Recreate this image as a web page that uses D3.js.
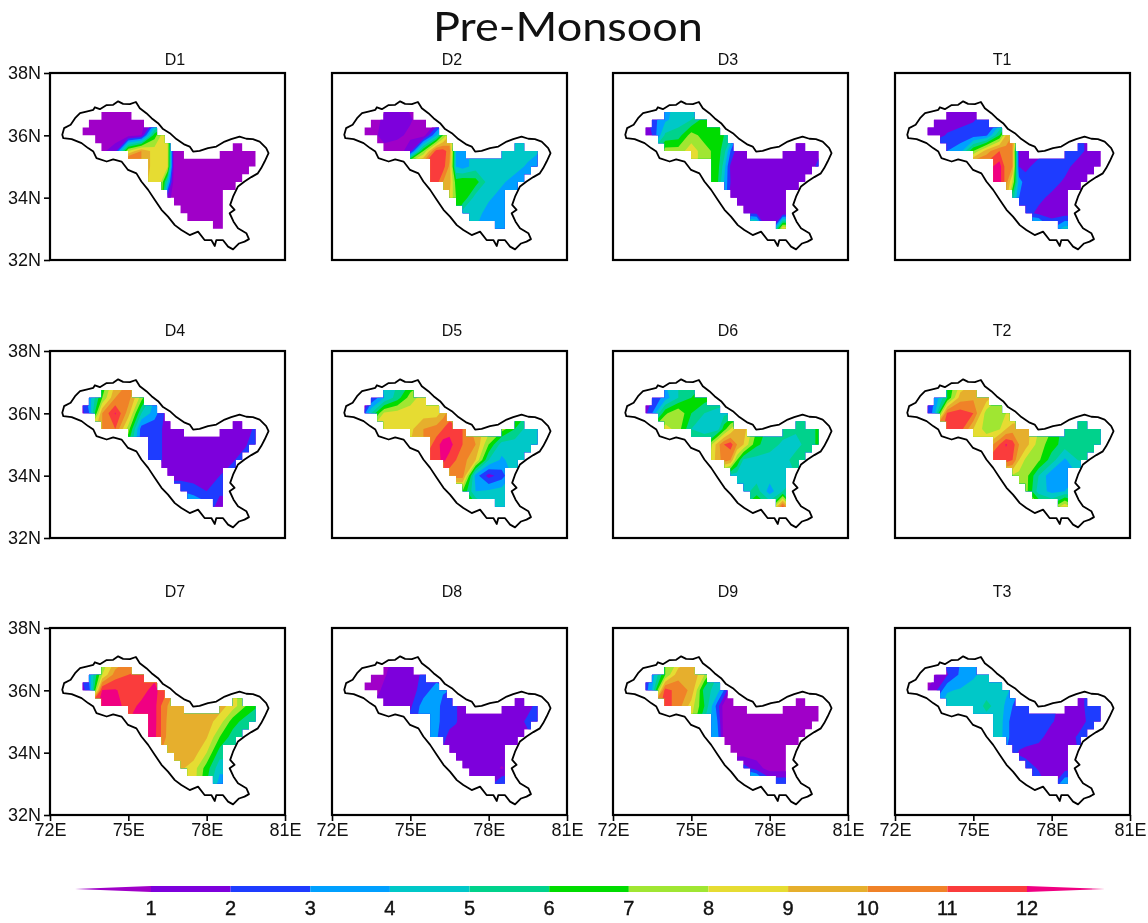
<!DOCTYPE html>
<html>
<head>
<meta charset="utf-8">
<script src="https://cdn.jsdelivr.net/npm/d3@7"></script>
<style>
  body { margin: 0; background: #fff; }
  text { font-family: "Liberation Sans", sans-serif; fill: #111; }
</style>
</head>
<body>
<svg id="chart" width="1148" height="923"></svg>
<script>
// Grid nodes of the rainfall fields, rows run north to south.
// Extra columns around 76.5E where the fields change fastest.
const lonNodes = [73, 73.5, 74, 74.5, 75, 75.5, 76, 76.25, 76.5, 76.75, 77, 77.5, 78, 78.5, 79, 79.5, 80];
const latNodes = [37, 36.5, 36, 35.5, 35, 34.5, 34, 33.5, 33];

const levels = [1, 2, 3, 4, 5, 6, 7, 8, 9, 10, 11, 12];
const bandColors = ["#a000c8", "#7d00dc", "#1e3cff", "#00a0ff", "#00c8c8", "#00d28c", "#00dc00",
  "#a0e632", "#e6dc32", "#e6af2d", "#f08228", "#fa3c3c", "#f00082"];

const panelNames = ["D1", "D2", "D3", "T1", "D4", "D5", "D6", "T2", "D7", "D8", "D9", "T3"];
const xTicks = [72, 75, 78, 81];
const yTicks = [32, 34, 36, 38];

// Values at the grid nodes.
const D1 = [
  [.5,.5,.5,.5,.5,.5,2,2,2,1,.5,.5,.5,.5,.5,.5,.5],
  [.5,.5,.5,.5,.5,.5,2,3,4,2,.5,.5,.5,.5,.5,.5,.5],
  [.5,.5,.5,.5,.5,1,6.5,8,8,3,1,.5,.5,.5,.5,.5,.5],
  [.5,.5,.8,1.5,8,10,8.5,8.5,8.3,.5,.5,.5,.5,.5,.5,.5,.5],
  [.5,.5,.5,5,14,10,8.5,8.5,8.2,.5,.5,.5,.5,.5,.5,.5,.5],
  [9,9,9,9,9,9.5,8.5,8,4.5,.5,.5,.5,.5,.5,.5,.5,.5],
  [8,8,8,8,8,8,8,8,1.5,.5,.5,.5,.5,.5,.5,.5,.5],
  [2,2,2,2,2,2,2,2,.5,.5,.5,.5,.5,.5,.5,.5,.5],
  [.5,.5,.5,.5,.5,.5,.5,.5,.5,.5,.5,.5,.5,.5,.5,.5,.5]
];
const D2 = [
  [.5,.5,.8,1.2,.8,.5,.5,.5,1,1.5,2,3,4,4,4,4,4],
  [.5,.5,1.2,1.5,1.1,.5,.5,1,3,3.5,4,4.5,4.5,4.5,4.5,4.5,4.5],
  [.5,.5,1.5,1.2,.8,.5,4,7,9,8,6,4.5,4.5,4.5,4.5,4.5,4.5],
  [.5,.5,.5,.5,1.5,7,11.5,11.5,10.5,4,3.5,4.5,4.5,4.5,4.5,4.5,4],
  [11,11,11,11,11,11.5,11.5,11.5,9.8,4,3.5,4.5,4.5,4.5,4.5,3.8,3],
  [11,11,11,11,11,11,11.5,10,9.5,6.5,6.9,6.5,4.5,4.2,3.5,3,3],
  [11,11,11,11,11,11,10,10,9,7,6.9,4.5,4.2,3.5,3,3,3],
  [7,7,7,7,7,7,7,7,7,6.5,4.5,4.5,3.5,3.5,3,3,3],
  [4.5,4.5,4.5,4.5,4.5,4.5,4.5,4.5,4.5,4.5,4.5,4,3.5,3.5,3.5,3.5,3.5]
];
const D3 = [
  [1.5,2.5,3.5,4.5,4.5,4.8,5.5,5.5,5.5,5.5,5,2,1.5,1.5,1.5,1.5,1.5],
  [.8,2.5,3.8,4.5,5,6.5,6.5,6,6,5,4,2,1.5,1.5,1.5,1.5,1.5],
  [.5,2,5.2,5.5,7.5,6.5,6.3,6,5.5,3,2,1.5,1.5,1.5,1.5,1.5,1.5],
  [3,5,7.5,7.5,8.5,7.5,6.5,5.5,3,1.5,1.2,1.5,1.5,1.5,1.5,1.5,2],
  [8,8,8,8,8.5,7.5,6.5,4.5,1.8,1.5,1.5,1.5,1.5,1.5,1.5,1.5,2.5],
  [8,8,8,8,8,7.5,6.2,4,2,1.5,1.5,1.5,1.5,1.5,1.5,2,2],
  [5,5,5,5,5,5,5,4,1.5,1.5,1.5,1.5,1.5,1.5,1.5,1.5,1.5],
  [2,2,2,2,2,2,2,2,2,2,2,1.8,1.5,1.2,1.5,1.5,1.5],
  [9,9,9,9,9,9,9,9,9,9,9,7,1,9,9,9,9]
];
const T1 = [
  [1,1,1,1,1,1.5,2,3,3,3,3,2,2,2,2,1.5,1.5],
  [1,1.5,1.5,1.5,1.9,2.5,3,4,5,4,4,2,2,2,2,1.5,1.5],
  [1,1.5,2.1,2.5,2.5,2.8,6,9,10,7,3,2,2,2,2.5,1.5,1.5],
  [2,3,3,3.5,7,9.5,11,10.5,10,1.7,1.5,1.5,2,2.5,2.5,1.5,1.5],
  [12,12,12,12,12,11.5,12.5,10.5,10,2,1.7,2.5,2.5,2.4,1.5,1.5,1.5],
  [12,12,12,12,12,12,12.5,10.5,8,3.5,2.5,2.5,2.5,1.8,1.5,1.5,1.5],
  [11,11,11,11,11,11,11,10,5.5,3,2.5,2.3,1.7,1.5,1.5,1.5,1.5],
  [4,4,4,4,4,4,4,4,4,3,2.5,1.7,1.5,1.5,1.5,1.5,1.5],
  [5,5,5,5,5,5,5,5,5,5,5,6,3,4.5,4.5,4.5,4.5]
];
const D4 = [
  [2,3,6,9,10,10,8,6,4,3,2,1.5,1.5,1.5,1.5,1.5,1.5],
  [1,3.5,7,10,10.5,7.5,4,3,2,2,1.5,1.5,1.5,1.5,1.5,1.5,1.5],
  [.5,3,10,12.1,9.5,5,3.5,2.5,1.5,1.5,1.5,1.5,1.5,1.5,1.5,1.5,1.5],
  [5,8,10,11,7.5,2.5,2.3,2.1,1.5,1.5,1.5,1.5,1.5,1.5,1.5,1.5,2.5],
  [6,6,6,6,6,2.5,2.5,2.1,1.5,1.5,1.5,1.5,1.5,1.5,1.5,1.9,3],
  [3,3,3,3,3,2.5,2.5,2.1,1.5,1.5,1.5,1.5,1.5,1.5,1.9,2.5,3],
  [2,2,2,2,2,2,2,1.5,1.5,1.5,1.5,1.5,1.5,2,2.5,2.5,2.5],
  [3,3,3,3,3,3,3,3,3,3,3,2.5,2,2.4,2.5,2.5,2.5],
  [4,4,4,4,4,4,4,4,4,4,4,4.5,3.5,1,1,1,1]
];
const D5 = [
  [1,3,4.5,5,6,7,8,8,8.5,8.7,9,9,9,9,9,9,9],
  [.5,2,4,5.5,7.5,8.5,8.5,8.5,8.5,8.7,9,9,9,9,9,9,9],
  [.5,5,8.2,8.5,8.5,8.5,8.5,9.5,10.5,10,9,9,9,8,7,6,5],
  [7,8,8.5,8.5,8.7,10,10.5,11,11.5,11.3,11,9.5,8.5,7.5,6,4.5,4.5],
  [9,9,9,9,9,10,11.5,12.5,12.5,11.5,11,10,7,4.5,4.5,4.5,4.5],
  [10,10,10,10,10,11,11.5,12.3,11.5,11,10.5,9,5,3.8,4.5,4.5,4.5],
  [10,10,10,10,10,10,10,10.5,10.5,10.5,10.5,3.5,1.6,2.5,4.5,4.5,4.5],
  [7,7,7,7,7,7,7,7,7,7,7,4,4.2,4.5,4.5,4.5,4.5],
  [7,7,7,7,7,7,7,7,7,7,7,6.5,5,4.5,4.5,4.5,4.5]
];
const D6 = [
  [1,3,4,5,5.5,6,6,6,6,6,6,6,6,6,6,6,6],
  [.5,2,3.5,5,6,6.5,6,5.5,5,5,5,5.5,5.5,5.5,5.5,5.5,5.5],
  [.5,3,6.8,7.9,6,5,4.5,4.7,5,5,5,5.5,5.5,5.5,5.5,5.5,6],
  [5,7,8.5,7.5,5,4.5,4.5,6.5,8,9.5,9.5,7,5.5,5.5,5.2,5.5,6.5],
  [5.5,5.5,5.5,5.5,5.5,6,9.5,11,11.5,10,9,6.2,5.5,4.8,4.6,5.5,6.5],
  [6,6,6,6,6,7,9.5,10.5,10,7,4.8,4.6,4.5,4.5,5.5,5.5,5.5],
  [7,7,7,7,7,7,7,5.5,4.5,4.5,4.5,4.5,4.5,4.5,5,5,5],
  [4.5,4.5,4.5,4.5,4.5,4.5,4.5,4.5,4.5,4.5,4.5,5.5,3.5,5,5,5,5],
  [6,6,6,6,6,6,6,6,6,6,6,7.5,6,11.5,6,6,6]
];
const T2 = [
  [1,4,6,8,9,9,8,7.5,7,7,7,7,6,6,5.5,5.5,5.5],
  [.5,3,6,9.5,9.8,9.5,8,7.5,7,7,7,7,6,6,5.5,5.5,5.5],
  [.5,3.5,11.2,11.5,11,7.5,7.5,8,8,8,8,7,6,5.5,5.5,5.5,5.5],
  [8,10,11.5,11.5,9,7.5,7.9,9,9.5,9.7,9.5,8,7,5.5,5.5,5.5,5.5],
  [8,8,8,8,8,9,11,12.1,11.5,10,9.5,7.5,6.5,5.5,5.5,5.5,5.5],
  [10,10,10,10,10,11,11.5,11.5,11,9,7.8,7.2,5.5,3.8,5,5.5,5.5],
  [9,9,9,9,9,9,9,8,7.8,7.6,7.5,5,3.2,3.5,4,4,4],
  [7.5,7.5,7.5,7.5,7.5,7.5,7.5,7.5,7.5,7.5,7.5,4.5,3.7,4,4.5,4.5,4.5],
  [8,8,8,8,8,8,8,8,8,8,8,7.5,6.5,9,7,7,7]
];
const D7 = [
  [3,5,7,9,10,10,10,10,10,10,10,10,9.5,9,8,7,6],
  [1,3.5,8,10.5,11,11.5,11.5,11.3,11,10.5,10,9.5,9.5,9,8,7,6],
  [1,2.5,12.1,12.1,11.5,11.5,12.5,11.5,11,10,9,9.5,9.5,9,8.5,7,6],
  [8,11,12.5,12.5,11.5,12.3,12.4,11,10,9.5,9.5,9.5,9.5,9.5,8.5,7,6],
  [12,12,12,12,12,12.3,12.4,11,9.8,9.5,9.5,9.5,9.5,8.5,6.5,5.5,5.5],
  [12,12,12,12,12,12.3,12.3,11,9.7,9.5,9.5,9.5,9.1,7,5.5,5.5,5.5],
  [11,11,11,11,11,11,11,10,9.5,9.5,9.5,9.5,8,5.5,5.5,5.5,5.5],
  [9,9,9,9,9,9,9,9,9,9,9.2,8.5,6.5,4.3,4.5,4.5,4.5],
  [9,9,9,9,9,9,9,9,9,9,9,8.5,6,3.5,3.5,3.5,3.5]
];
const D8 = [
  [.5,.5,.5,1.5,1.5,1.5,2,2,2,2,1.5,1.5,1.5,1.5,1.5,1.5,1.5],
  [.5,.5,.9,1.5,1.5,2.2,2.5,2.5,2.5,2,1.5,1.5,1.5,1.5,1.5,1.5,1.5],
  [.5,.5,1.2,1.5,1.5,2.5,3.5,3.2,3,2.5,2,1.5,1.5,1.5,1.5,1.5,1.5],
  [.5,1,1.5,1.5,1.8,3.5,3.6,2.5,2.2,2.1,1.5,1.5,1.5,1.5,1.5,1.7,2.5],
  [2.5,2.5,2.5,2.5,2.5,3.5,3.5,2.5,2.2,2.1,1.5,1.5,1.5,1.5,1.5,2.2,2.5],
  [3,3,3,3,3,3.5,3.2,2.2,1.8,1.5,1.5,1.5,1.5,1.5,1.5,1.8,2],
  [2.5,2.5,2.5,2.5,2.5,2.5,2.5,1.9,1.5,1.5,1.5,1.5,1.5,1.5,1.5,1.5,1.5],
  [1.5,1.5,1.5,1.5,1.5,1.5,1.5,1.5,1.5,1.5,1.5,1.5,1.5,.9,1.5,1.5,1.5],
  [1.5,1.5,1.5,1.5,1.5,1.5,1.5,1.5,1.5,1.5,1.5,1.5,1.5,3,3,3,3]
];
const D9 = [
  [3,5,7,8,9,9,6,4,3,1,.5,.5,.5,.5,.5,.5,.5],
  [1,3.5,7,9.7,10,8,5,4,3,1,.5,.5,.5,.5,.5,.5,.5],
  [1,4,11.5,10.5,9.8,5.5,4.5,3,1,.5,.5,.5,.5,.5,.5,.5,.5],
  [5,10,11.5,10.5,8.5,6,2.5,.5,.5,.5,.5,.5,.5,.5,.5,.5,.5],
  [8,8,8,8,8,5,3,.5,.5,.5,.5,.5,.5,.5,.5,.5,.5],
  [6,6,6,6,6,4.5,3.5,.5,.5,.5,.5,.5,.5,.5,.5,.5,.5],
  [3,3,3,3,3,3,3,.5,.5,.5,.5,.5,.5,.5,.5,.5,.5],
  [2.5,2.5,2.5,2.5,2.5,2.5,2.5,2.5,2.5,2.5,2.5,1.5,.5,.5,.5,.5,.5],
  [7,7,7,7,7,7,7,7,7,7,7,6,3,3,3,3,3]
];
const T3 = [
  [.5,1.5,2.5,3,3.5,3.5,4,4,4,3.5,3,2.5,2.5,2,2,2.5,2.5],
  [.5,.9,1.9,3.2,3.8,4.5,4.5,4.2,4,3,2.5,2.5,2.5,2,2,2.5,2.5],
  [.5,1.5,3.9,4.1,4.5,4.5,4.5,4.2,3.8,3,2,2.5,2.5,1.5,1.5,2.5,2.5],
  [2,3.5,4.5,4.5,4.2,5.3,4.5,3.8,3,2.5,2.2,2.5,2.4,1.5,1.5,2.5,2.5],
  [4.5,4.5,4.5,4.5,4.5,4.5,4.5,3.5,2.5,2.5,2.5,2.5,2.1,1.5,1.5,2.3,2.5],
  [4.5,4.5,4.5,4.5,4.5,4.5,4.4,3.5,2.5,2.5,2.5,2.3,1.5,1.5,2.1,2.5,2.5],
  [3.5,3.5,3.5,3.5,3.5,3.5,3.5,3,2.5,1.9,1.7,1.5,1.5,1.5,2,2,2],
  [2.5,2.5,2.5,2.5,2.5,2.5,2.5,2.5,2.5,2.5,2.5,1.9,1.5,1.5,2,2,2],
  [3,3,3,3,3,3,3,3,3,3,3,2.5,1.5,4,4,4,4]
];
const panelValues = [D1, D2, D3, T1, D4, D5, D6, T2, D7, D8, D9, T3];

// Basin grid cells kept by the mask: south edge, then west/east longitude of the run.
const maskRows = [
  [36.5, 73.97, 75.12],
  [36.25, 73.49, 75.6],
  [36, 73.25, 76.1],
  [35.75, 73.73, 76.39],
  [35.5, 73.97, 76.61],
  [35.5, 79, 79.36],
  [35.25, 74.99, 77.13],
  [35.25, 78.5, 79.87],
  [35, 75.76, 79.87],
  [34.75, 75.76, 79.62],
  [34.5, 75.76, 79.36],
  [34.25, 76.27, 79.11],
  [34, 76.5, 78.62],
  [33.75, 76.75, 78.62],
  [33.5, 77, 78.62],
  [33.25, 77.26, 78.62],
  [33, 78.24, 78.62]
];

// Basin boundary as lon/lat pairs.
const basinOutline = [
  [72.47,36.02],[72.54,36.23],[72.79,36.34],[72.96,36.55],[73.15,36.71],[73.43,36.77],[73.66,36.82],
  [73.72,36.9],[73.91,36.84],[74.17,36.97],[74.42,36.98],[74.61,37.09],[74.8,37.01],[75.06,37],
  [75.29,37.07],[75.44,36.87],[75.69,36.71],[75.89,36.55],[76.14,36.39],[76.33,36.2],[76.59,36.07],
  [76.84,35.88],[77.16,35.7],[77.35,35.64],[77.48,35.48],[77.73,35.5],[78.05,35.59],[78.37,35.64],
  [78.69,35.8],[78.94,35.88],[79.26,35.96],[79.52,35.89],[79.77,35.88],[80.03,35.8],[80.28,35.59],
  [80.37,35.43],[80.22,35.16],[80.09,34.95],[79.96,34.78],[79.71,34.66],[79.45,34.52],[79.2,34.36],
  [79.01,34.03],[78.9,33.77],[79.07,33.61],[78.88,33.5],[79.03,33.23],[79.2,33.02],[79.52,32.86],
  [79.62,32.67],[79.45,32.59],[79.24,32.53],[79.01,32.34],[78.82,32.43],[78.62,32.64],[78.37,32.64],
  [78.31,32.45],[78.18,32.64],[77.92,32.64],[77.67,32.91],[77.35,32.8],[77.03,32.96],[76.78,33.12],
  [76.52,33.39],[76.27,33.61],[76.01,33.93],[75.76,34.25],[75.5,34.52],[75.31,34.78],[74.99,34.89],
  [74.74,35.16],[74.42,35.23],[74.17,35.16],[73.78,35.27],[73.66,35.48],[73.46,35.59],[73.21,35.75],
  [72.83,35.88],[72.51,35.91]
];

const svg = d3.select("#chart");

// Page layout.
const colX = [50, 332, 613, 895];
const rowY = [73, 351, 628];
const titleX = [175, 452, 728, 1002];
const titleY = [59, 330, 591];
const panelW = 235;
const panelH = 187;

const xScale = d3.scaleLinear().domain([72, 81]).range([0, panelW]);
const yScale = d3.scaleLinear().domain([32, 38]).range([panelH, 0]);

// d3.contours puts node i at i + 0.5; columns are not evenly spaced in longitude.
const nodeLon = d3.scaleLinear().domain(lonNodes.map((d, i) => i + 0.5)).range(lonNodes);
const nodeLat = d3.scaleLinear().domain(latNodes.map((d, i) => i + 0.5)).range(latNodes);
const contourPath = d3.geoPath(d3.geoTransform({
  point(c, r) {
    this.stream.point(xScale(nodeLon(c)), yScale(nodeLat(r)));
  }
}));

const contours = d3.contours()
  .size([lonNodes.length, latNodes.length])
  .thresholds(levels);

const outlineLine = d3.line()
  .x(d => xScale(d[0]))
  .y(d => yScale(d[1]))
  .curve(d3.curveLinearClosed);

const soft = svg.append("g").style("filter", "blur(0.5px)");

panelNames.forEach((name, i) => {
  const col = i % 4;
  const row = Math.floor(i / 4);
  const g = soft.append("g")
    .attr("transform", `translate(${colX[col]}, ${rowY[row]})`);

  // Mask of basin grid cells.
  const clipId = `mask-${name}`;
  g.append("clipPath")
    .attr("id", clipId)
    .selectAll("rect")
    .data(maskRows)
    .join("rect")
    .attr("x", d => xScale(d[1]))
    .attr("y", d => yScale(d[0] + 0.25))
    .attr("width", d => xScale(d[2]) - xScale(d[1]))
    .attr("height", d => yScale(d[0]) - yScale(d[0] + 0.25));

  const field = g.append("g").attr("clip-path", `url(#${clipId})`);

  // Lowest band goes under everything, then each level painted on top.
  field.append("rect")
    .attr("width", panelW)
    .attr("height", panelH)
    .attr("fill", bandColors[0]);

  field.selectAll("path")
    .data(contours(panelValues[i].flat()))
    .join("path")
    .attr("d", contourPath)
    .attr("fill", (d, k) => bandColors[k + 1]);

  g.append("path")
    .attr("d", outlineLine(basinOutline))
    .attr("fill", "none")
    .attr("stroke", "#000")
    .attr("stroke-width", 1.8)
    .attr("stroke-linejoin", "round");

  g.append("rect")
    .attr("width", panelW)
    .attr("height", panelH)
    .attr("fill", "none")
    .attr("stroke", "#000")
    .attr("stroke-width", 2.2);

  if (col === 0) {
    const yAxis = g.append("g")
      .call(d3.axisLeft(yScale).tickValues(yTicks).tickFormat(d => `${d}N`).tickSize(6).tickPadding(3));
    yAxis.select(".domain").remove();
    yAxis.selectAll("line").attr("stroke-width", 1.6);
    yAxis.selectAll("text").attr("font-size", 18).style("font-family", "Liberation Sans");
  }
  if (row === 2) {
    const xAxis = g.append("g")
      .attr("transform", `translate(0, ${panelH})`)
      .call(d3.axisBottom(xScale).tickValues(xTicks).tickFormat(d => `${d}E`).tickSize(6).tickPadding(2));
    xAxis.select(".domain").remove();
    xAxis.selectAll("line").attr("stroke-width", 1.6);
    xAxis.selectAll("text").attr("font-size", 18).style("font-family", "Liberation Sans");
  }

  soft.append("text")
    .attr("x", titleX[col])
    .attr("y", titleY[row])
    .attr("dy", "0.35em")
    .attr("text-anchor", "middle")
    .attr("font-size", 16)
    .text(name);
});

// Main title.
svg.append("text")
  .attr("x", 568)
  .attr("y", 41)
  .attr("text-anchor", "middle")
  .attr("font-size", 41)
  .attr("textLength", 270)
  .attr("lengthAdjust", "spacingAndGlyphs")
  .style("font-family", "Lato")
  .text("Pre-Monsoon");

// Colour bar with pointed ends.
const barX = d3.scaleLinear().domain([1, 12]).range([151, 1027]);
const barY = 889;
const barH = 6;
const tipLeft = 75;
const tipRight = 1105;

const bar = soft.append("g");

bar.selectAll("rect")
  .data(levels.slice(0, -1))
  .join("rect")
  .attr("x", d => barX(d))
  .attr("y", barY - barH / 2)
  .attr("width", d => barX(d + 1) - barX(d))
  .attr("height", barH)
  .attr("fill", d => bandColors[d]);

bar.append("polygon")
  .attr("points", `${tipLeft},${barY} ${barX(1)},${barY - barH / 2} ${barX(1)},${barY + barH / 2}`)
  .attr("fill", bandColors[0]);

bar.append("polygon")
  .attr("points", `${tipRight},${barY} ${barX(12)},${barY - barH / 2} ${barX(12)},${barY + barH / 2}`)
  .attr("fill", bandColors[12]);

bar.selectAll("text")
  .data(levels)
  .join("text")
  .attr("x", d => barX(d))
  .attr("y", 908)
  .attr("dy", "0.35em")
  .attr("text-anchor", "middle")
  .attr("font-size", 20)
  .attr("stroke", "#111")
  .attr("stroke-width", 0.4)
  .text(d => d);
</script>
</body>
</html>
